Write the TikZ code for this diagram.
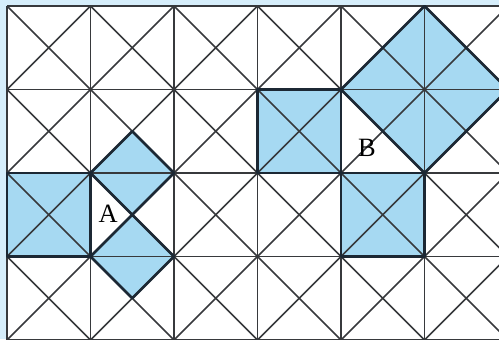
\documentclass[tikz,border=0pt]{standalone}
\usepackage{fontspec}
\setmainfont{Liberation Serif}
\definecolor{paleblue}{RGB}{214,238,251}
\definecolor{tileblue}{RGB}{166,217,242}
\definecolor{gridgray}{RGB}{55,57,60}
\definecolor{edgedark}{RGB}{28,40,52}
\tikzset{
  gridline/.style={draw=gridgray, line width=1.1pt},
  outline/.style={draw=edgedark, line width=1.8pt, line join=round},
  tile/.style={fill=tileblue},
  letter/.style={font=\fontsize{18}{18}\selectfont, inner sep=0pt}
}
\begin{document}
\begin{tikzpicture}[x=2cm, y=2cm]
% frame of the picture
\useasboundingbox (-0.084,0.072) rectangle (5.892,-3.988);
\fill[paleblue] (-0.084,0.072) rectangle (5.892,-3.988);
\clip (-0.084,0.072) rectangle (5.892,-3.988);
\fill[white] (0,0) rectangle (6,-4);

% shaded tiles round A
\fill[tile] (0,-2) rectangle (1,-3);
\fill[tile] (1,-2) -- (1.5,-1.5) -- (2,-2) -- (1.5,-2.5) -- cycle;
\fill[tile] (1,-3) -- (1.5,-2.5) -- (2,-3) -- (1.5,-3.5) -- cycle;
% shaded tiles round B
\fill[tile] (3,-1) rectangle (4,-2);
\fill[tile] (5,0) -- (6,-1) -- (5,-2) -- (4,-1) -- cycle;
\fill[tile] (4,-2) rectangle (5,-3);

% the grid
\draw[gridline, step=2cm] (0,0) grid (6,-4);
\draw[gridline] (0,-3) -- (1,-4) (0,-2) -- (2,-4) (0,-1) -- (3,-4) (0,0) -- (4,-4);
\draw[gridline] (1,0) -- (5,-4) (2,0) -- (6,-4) (3,0) -- (6,-3) (4,0) -- (6,-2) (5,0) -- (6,-1);
\draw[gridline] (1,0) -- (0,-1) (2,0) -- (0,-2) (3,0) -- (0,-3) (4,0) -- (0,-4);
\draw[gridline] (5,0) -- (1,-4) (6,0) -- (2,-4) (6,-1) -- (3,-4) (6,-2) -- (4,-4) (6,-3) -- (5,-4);

% outlines of the shaded parts
\draw[outline] (0,-2) rectangle (1,-3);
\draw[outline] (1,-2) -- (1.5,-1.5) -- (2,-2) -- (1.5,-2.5) -- cycle;
\draw[outline] (1,-3) -- (1.5,-2.5) -- (2,-3) -- (1.5,-3.5) -- cycle;
\draw[outline] (3,-1) rectangle (4,-2);
\draw[outline] (5,0) -- (6,-1) -- (5,-2) -- (4,-1) -- cycle;
\draw[outline] (4,-2) rectangle (5,-3);

% labels
\node[letter] (labA) at (1.21,-2.485) {A};
\node[letter] (labB) at (4.31,-1.70) {B};
\end{tikzpicture}
\end{document}
